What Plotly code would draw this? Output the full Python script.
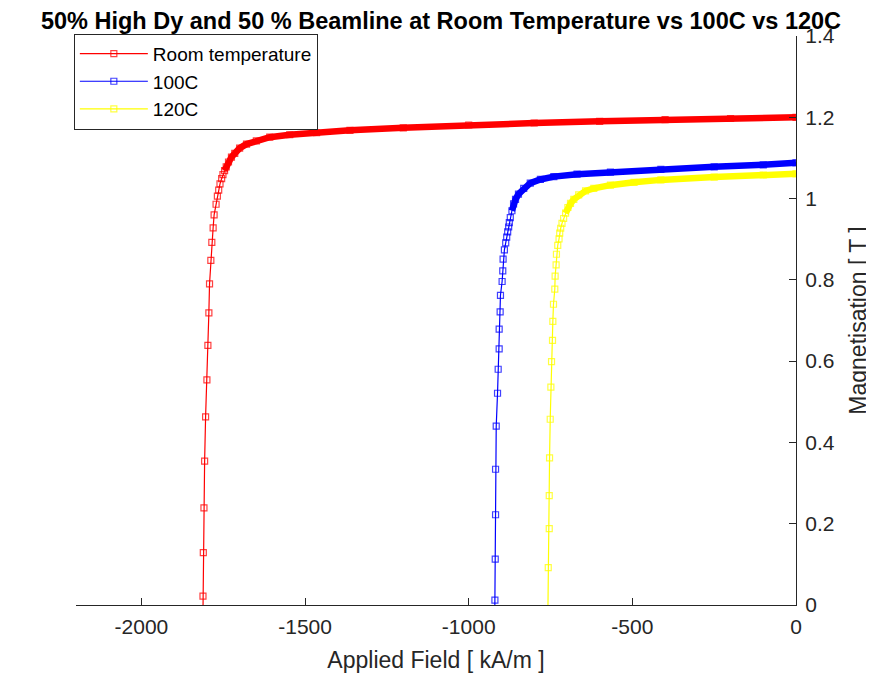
import plotly.graph_objects as go

# ---- data ----
room_H = [-1813, -1812, -1811, -1809, -1807, -1804, -1800, -1797, -1794, -1792, -1788, -1785,
          -1781, -1778, -1772, -1768, -1764, -1760, -1755, -1751, -1746, -1741, -1734, -1725,
          -1715, -1700, -1679, -1649, -1608, -1547, -1465, -1363, -1200, -1000, -800, -600,
          -400, -200, 0]
room_M = [-0.09, 0.022, 0.129, 0.239, 0.354, 0.463, 0.554, 0.639, 0.719, 0.790, 0.848, 0.892,
          0.928, 0.960, 0.986, 1.006, 1.021, 1.036, 1.049, 1.059, 1.069, 1.078, 1.090, 1.102,
          1.111, 1.124, 1.134, 1.142, 1.151, 1.157, 1.162, 1.168, 1.174, 1.181, 1.186, 1.190,
          1.194, 1.197, 1.200]

c100_H = [-921, -920, -919, -918, -918, -916, -912, -910, -907, -907, -904, -903, -898, -896,
          -895, -891, -887, -884, -881, -878, -876, -873, -868, -863, -857, -848, -832, -812,
          -781, -740, -669, -567, -413, -250, -100, 0]
c100_M = [-0.09, 0.012, 0.113, 0.222, 0.334, 0.440, 0.521, 0.580, 0.630, 0.679, 0.721, 0.762,
          0.796, 0.822, 0.851, 0.874, 0.891, 0.905, 0.918, 0.930, 0.941, 0.953, 0.970, 0.987,
          0.998, 1.011, 1.025, 1.038, 1.047, 1.054, 1.060, 1.065, 1.072, 1.078, 1.083, 1.088]

c120_H = [-758, -757, -754, -754, -753, -751, -749, -747, -744, -743, -741, -737, -736, -733,
          -732, -728, -724, -722, -719, -715, -710, -704, -697, -689, -679, -664, -643, -618,
          -567, -495, -413, -250, -100, 0]
c120_M = [-0.012, 0.092, 0.188, 0.269, 0.362, 0.457, 0.536, 0.599, 0.651, 0.698, 0.740, 0.777,
          0.809, 0.837, 0.863, 0.885, 0.901, 0.915, 0.927, 0.939, 0.951, 0.964, 0.978, 0.988,
          0.998, 1.009, 1.019, 1.025, 1.033, 1.040, 1.046, 1.053, 1.058, 1.061]

series_names = ["Room temperature", "100C", "120C"]
x_tickvals = [-2000, -1500, -1000, -500, 0]
x_ticktext = ["-2000", "-1500", "-1000", "-500", "0"]
y_tickvals = [0, 0.2, 0.4, 0.6, 0.8, 1, 1.2, 1.4]
y_ticktext = ["0", "0.2", "0.4", "0.6", "0.8", "1", "1.2", "1.4"]

# ---- styling ----
colors = ["#FF0000", "#0000FF", "#FFFF00"]
band_start = [20, 22, 21]   # where the markers merge into a solid band
FONT = "Liberation Sans, Arial, sans-serif"
TXT = "#262626"

fig = go.Figure()
data = [(room_H, room_M), (c100_H, c100_M), (c120_H, c120_M)]
for (H, M), name, col, k in zip(data, series_names, colors, band_start):
    # dense overlapping markers on the flat part appear as a thick band
    fig.add_trace(go.Scatter(x=H[k:], y=M[k:], mode="lines",
                             line=dict(color=col, width=6.5),
                             showlegend=False, hoverinfo="skip"))
    fig.add_trace(go.Scatter(x=H, y=M, mode="lines+markers", name=name,
                             line=dict(color=col, width=1.2),
                             marker=dict(symbol="square-open", size=6, color=col,
                                         line=dict(color=col, width=1.2), opacity=0.75)))

# the page body adds an 8px margin, so the figure is 8px smaller on each axis
fig.update_layout(
    width=866, height=667,
    margin=dict(l=68, r=78, t=28, b=70, autoexpand=False),
    paper_bgcolor="white", plot_bgcolor="white",
    font=dict(family=FONT, color=TXT, size=21),
    title=dict(text="50% High Dy and 50 % Beamline at Room Temperature vs 100C vs 120C",
               x=0.5, xanchor="center", y=1 - 12.5 / 667, yanchor="middle",
               font=dict(family=FONT, size=23.5, color="black", weight="bold")),
    showlegend=True,
    legend=dict(x=-0.003, y=1.004, xanchor="left", yanchor="top",
                bgcolor="white", bordercolor=TXT, borderwidth=1,
                font=dict(family=FONT, size=19, color="black"),
                itemwidth=68, tracegroupgap=0),
    xaxis=dict(range=[-2200, 0], tickmode="array", tickvals=x_tickvals, ticktext=x_ticktext,
               ticks="inside", ticklen=7, tickcolor=TXT, tickwidth=1.3,
               showline=True, linecolor=TXT, linewidth=1.3, mirror=False,
               showgrid=False, zeroline=False, ticklabelstandoff=3, automargin=False,
               tickfont=dict(family=FONT, size=21, color=TXT),
               title=dict(text="Applied Field [ kA/m ]", standoff=14,
                          font=dict(family=FONT, size=23, color=TXT))),
    yaxis=dict(range=[0, 1.4], side="right", tickmode="array", tickvals=y_tickvals,
               ticktext=y_ticktext,
               ticks="inside", ticklen=7, tickcolor=TXT, tickwidth=1.3,
               showline=True, linecolor=TXT, linewidth=1.3, mirror=False,
               showgrid=False, zeroline=False, ticklabelstandoff=4, automargin=False,
               tickfont=dict(family=FONT, size=21, color=TXT),
               title=dict(text="Magnetisation [ T ]", standoff=16,
                          font=dict(family=FONT, size=23, color=TXT))),
)

fig.write_html("out.html")
